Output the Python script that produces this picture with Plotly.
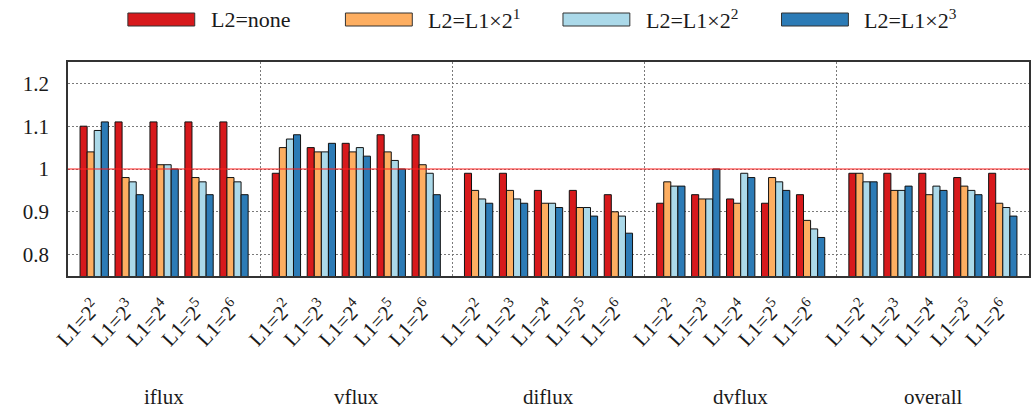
import plotly.graph_objects as go

# ---------------- data ----------------
groups = ["iflux", "vflux", "diflux", "dvflux", "overall"]
sub_labels = ["L1=2<sup>2</sup>", "L1=2<sup>3</sup>", "L1=2<sup>4</sup>", "L1=2<sup>5</sup>", "L1=2<sup>6</sup>"]
series_names = ["L2=none", "L2=L1×2<sup>1</sup>", "L2=L1×2<sup>2</sup>", "L2=L1×2<sup>3</sup>"]
series_colors = ["#d7191c", "#fdae61", "#abd9e9", "#2c7bb6"]

# values per series, ordered group by group (iflux, vflux, diflux, dvflux, overall), 5 sub-configs each
l2_none = [1.10, 1.11, 1.11, 1.11, 1.11,
           0.99, 1.05, 1.06, 1.08, 1.08,
           0.99, 0.99, 0.95, 0.95, 0.94,
           0.92, 0.94, 0.93, 0.92, 0.94,
           0.99, 0.99, 0.99, 0.98, 0.99]
l2_x2 = [1.04, 0.98, 1.01, 0.98, 0.98,
         1.05, 1.04, 1.04, 1.04, 1.01,
         0.95, 0.95, 0.92, 0.91, 0.90,
         0.97, 0.93, 0.92, 0.98, 0.88,
         0.99, 0.95, 0.94, 0.96, 0.92]
l2_x4 = [1.09, 0.97, 1.01, 0.97, 0.97,
         1.07, 1.04, 1.05, 1.02, 0.99,
         0.93, 0.93, 0.92, 0.91, 0.89,
         0.96, 0.93, 0.99, 0.97, 0.86,
         0.97, 0.95, 0.96, 0.95, 0.91]
l2_x8 = [1.11, 0.94, 1.00, 0.94, 0.94,
         1.08, 1.06, 1.03, 1.00, 0.94,
         0.92, 0.92, 0.91, 0.89, 0.85,
         0.96, 1.00, 0.98, 0.95, 0.84,
         0.97, 0.96, 0.95, 0.94, 0.89]
series_values = [l2_none, l2_x2, l2_x4, l2_x8]

y_tick_vals = [0.8, 0.9, 1.0, 1.1, 1.2]
y_tick_text = ["0.8", "0.9", "1", "1.1", "1.2"]
y_range = [0.75, 1.25]
baseline = 1.0

# ---------------- layout geometry ----------------
W, H = 1035, 408
ML, MR, MT, MB = 68, 4, 62, 132
PW, PH = W - ML - MR, H - MT - MB
GROUP_W = 5.5     # x-units per group
EDGE = 0.75       # margin inside group before first sub-config

x_pos = []
x_text = []
for g in range(len(groups)):
    for j in range(len(sub_labels)):
        x_pos.append(GROUP_W * g + EDGE + j)
        x_text.append(sub_labels[j])
group_centers = [GROUP_W * g + GROUP_W / 2 for g in range(len(groups))]
dividers = [GROUP_W * (g + 1) for g in range(len(groups) - 1)]

FONT = "Liberation Serif, Times New Roman, Times, serif"
TXT = "#1a1a1a"
GRID = "#7a7a7a"
GRID_DASH = "1.5px,2.5px"

fig = go.Figure()
for name, vals, col in zip(series_names, series_values, series_colors):
    fig.add_trace(go.Bar(
        x=x_pos, y=vals, name=name, showlegend=False,
        marker=dict(color=col, line=dict(color="#111111", width=1)),
    ))

fig.update_layout(
    width=W, height=H,
    margin=dict(l=ML, r=MR, t=MT, b=MB),
    paper_bgcolor="white", plot_bgcolor="white",
    barmode="group", bargap=0.19, bargroupgap=0.0,
    font=dict(family=FONT, size=21, color=TXT),
)

fig.update_xaxes(
    range=[0, GROUP_W * len(groups)],
    tickmode="array", tickvals=x_pos, ticktext=x_text,
    tickangle=-47, ticks="", ticklabelstandoff=9,
    tickfont=dict(family=FONT, size=21, color=TXT),
    showgrid=False, zeroline=False,
    showline=True, linecolor="#333333", linewidth=1.5, mirror=True,
    minor=dict(tickmode="array", tickvals=dividers, showgrid=True,
               gridcolor=GRID, griddash=GRID_DASH, gridwidth=1, ticks=""),
)
fig.update_yaxes(
    range=y_range,
    tickmode="array", tickvals=y_tick_vals, ticktext=y_tick_text,
    ticks="", ticklabelstandoff=13,
    tickfont=dict(family=FONT, size=21, color=TXT),
    showgrid=True, gridcolor=GRID, griddash=GRID_DASH, gridwidth=1,
    zeroline=False,
    showline=True, linecolor="#333333", linewidth=1.5, mirror=True,
)

# reference line at 1
fig.add_shape(type="line", xref="paper", x0=0, x1=1, yref="y", y0=baseline, y1=baseline,
              line=dict(color="#ff2020", width=1.2), layer="above")

# group labels
for gname, gc in zip(groups, group_centers):
    fig.add_annotation(x=gc, xref="x", y=-(397 - (H - MB)) / PH, yref="paper",
                       text=gname, showarrow=False, yanchor="middle", xanchor="center",
                       font=dict(family=FONT, size=21, color=TXT))

# manual legend (wide swatches like the original)
def px_x(px):
    return (px - ML) / PW

def px_y(py):
    return (H - MB - py) / PH

legend_swatch_left = [128, 346, 564, 783]
SW_W, SW_TOP, SW_BOT = 67, 13, 26
for name, col, left in zip(series_names, series_colors, legend_swatch_left):
    fig.add_shape(type="rect", xref="paper", yref="paper",
                  x0=px_x(left), x1=px_x(left + SW_W), y0=px_y(SW_BOT), y1=px_y(SW_TOP),
                  fillcolor=col, line=dict(color="#333333", width=1))
    fig.add_annotation(x=px_x(left + SW_W + 14), y=px_y(19), xref="paper", yref="paper",
                       text=name, showarrow=False, xanchor="left", yanchor="middle",
                       font=dict(family=FONT, size=22, color=TXT))

fig.write_html("out.html")
